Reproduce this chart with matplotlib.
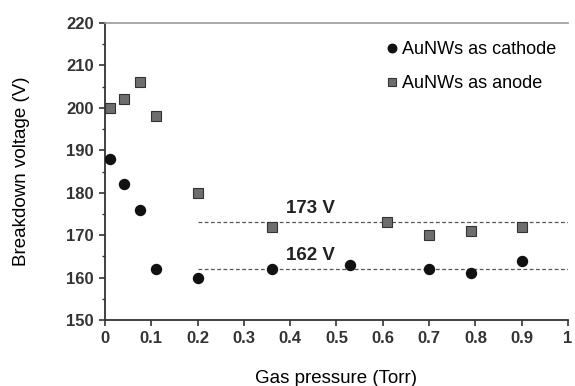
import matplotlib
matplotlib.use("Agg")
import matplotlib.pyplot as plt
from matplotlib.ticker import MultipleLocator

plt.rcParams['font.family'] = ['Liberation Sans', 'DejaVu Sans']

cathode_x = [0.01, 0.04, 0.075, 0.11, 0.2, 0.36, 0.53, 0.7, 0.79, 0.9]
cathode_y = [188, 182, 176, 162, 160, 162, 163, 162, 161, 164]
anode_x = [0.01, 0.04, 0.075, 0.11, 0.2, 0.36, 0.61, 0.7, 0.79, 0.9]
anode_y = [200, 202, 206, 198, 180, 172, 173, 170, 171, 172]
ref_levels = [173, 162]
ref_labels = ["173 V", "162 V"]
ref_x = [0.2, 1.0]
xticks = [0, 0.1, 0.2, 0.3, 0.4, 0.5, 0.6, 0.7, 0.8, 0.9, 1]
xtick_labels = ["0", "0.1", "0.2", "0.3", "0.4", "0.5", "0.6", "0.7", "0.8", "0.9", "1"]
yticks = [150, 160, 170, 180, 190, 200, 210, 220]

fig = plt.figure(figsize=(5.75, 3.86), dpi=100)
ax = fig.add_axes([105/575, 1-320/386, (568-105)/575, (320-23)/386])

for lvl in ref_levels:
    ax.plot(ref_x, [lvl, lvl], linestyle=(0, (3, 2)), color='#555555', lw=0.9, zorder=1)
ax.text(0.39, 175.2, ref_labels[0], fontsize=13.5, fontweight='bold', color='#222222', va='baseline')
ax.text(0.39, 164.1, ref_labels[1], fontsize=13.5, fontweight='bold', color='#222222', va='baseline')

ax.plot(cathode_x, cathode_y, 'o', color='#111111', markersize=7.2, label='AuNWs as cathode', zorder=3)
ax.plot(anode_x, anode_y, 's', color='#6e6e6e', markeredgecolor='#333333', markeredgewidth=0.8,
        markersize=6.5, label='AuNWs as anode', zorder=3)

ax.set_xlim(0, 1)
ax.set_ylim(150, 220)
ax.set_xticks(xticks)
ax.set_xticklabels(xtick_labels)
ax.set_yticks(yticks)
ax.yaxis.set_minor_locator(MultipleLocator(5))

ax.spines['right'].set_visible(False)
ax.spines['top'].set_color('#999999')
ax.spines['top'].set_linewidth(1.2)
for s in ['left', 'bottom']:
    ax.spines[s].set_color('#333333')
    ax.spines[s].set_linewidth(1.3)

ax.tick_params(axis='both', which='major', direction='out', length=4.5, width=1.2, color='#333333',
               labelsize=12, labelcolor='#333333')
ax.tick_params(axis='y', which='minor', direction='out', length=2.5, width=1, color='#333333')
for lab in ax.get_xticklabels() + ax.get_yticklabels():
    lab.set_fontweight('bold')

ax.set_xlabel('Gas pressure (Torr)', fontsize=13.5, labelpad=17)
ax.set_ylabel('Breakdown voltage (V)', fontsize=13.5, labelpad=26)

ax.legend(loc='upper left', bbox_to_anchor=(386.6/575, 1-41/386), bbox_transform=fig.transFigure,
          frameon=False, fontsize=13, markerscale=0.85,
          handlelength=0.6, handletextpad=0.25, labelspacing=0.95, borderpad=0, borderaxespad=0)

fig.savefig('out.png', dpi=100)
